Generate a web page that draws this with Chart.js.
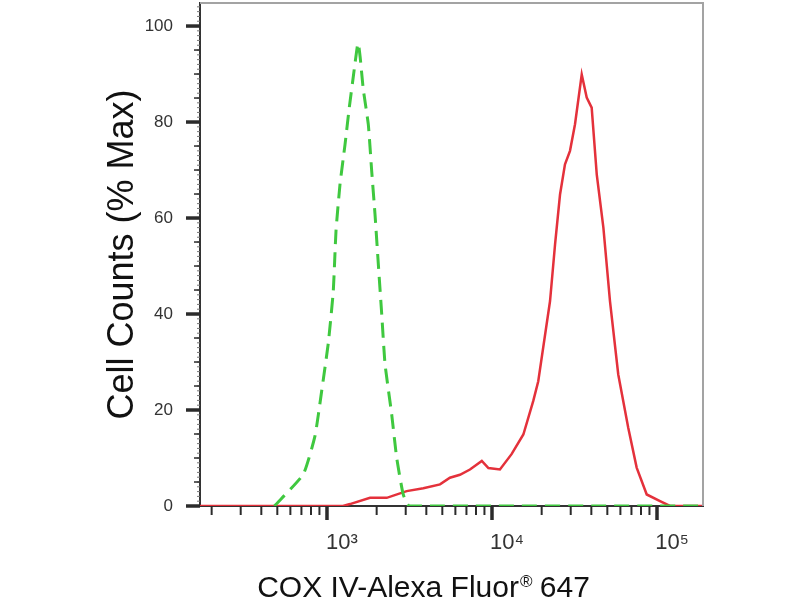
<!DOCTYPE html>
<html>
<head>
<meta charset="utf-8">
<script src="https://cdn.jsdelivr.net/npm/chart.js@4"></script>
<style>
html, body { margin: 0; padding: 0; background: #fff; }
.chart-box { width: 800px; height: 600px; }
</style>
</head>
<body>
<div class="chart-box"><canvas id="histChart"></canvas></div>
<script>
// fluorescence (x) and % max counts (y)
var isotypeX = [480, 718, 846, 929, 1019, 1092, 1134, 1199, 1286, 1365, 1458, 1527, 1550, 1590, 1660, 1780, 1866, 1954, 2048, 2147, 2249, 2467, 2643, 2898, 3160, 190000]
var isotypeY = [0, 6.6, 14.6, 24, 34, 44.8, 57.3, 67, 75.3, 83, 90.6, 95.8, 96.4, 93.4, 86.8, 79.5, 69.8, 60.8, 50.3, 39.9, 29.5, 19.1, 10.1, 2.4, 0, 0]

var coxX = [170, 1250, 1378, 1823, 2302, 3040, 3836, 4842, 5559, 6394, 7353, 8675, 9511, 11170, 13140, 15490, 17790, 19070, 22480, 24110, 25840, 27690, 29700, 31830, 34980, 37500, 40190, 43130, 47320, 51880, 58240, 66940, 75290, 86650, 104300, 119900, 190000]
var coxY = [0, 0, 0.4, 1.7, 1.7, 3.1, 3.7, 4.5, 5.9, 6.5, 7.6, 9.4, 7.9, 7.6, 10.8, 14.9, 21.9, 26, 42.7, 54.5, 64.9, 71.2, 74, 79.5, 89.9, 85.1, 83, 69.1, 58, 42.7, 27.4, 16.3, 8, 2.4, 1, 0, 0]

// tick values and labels
var xMajorTicks = [1000, 10000, 100000]
var xTickLabels = ['10\u00b3', '10\u2074', '10\u2075']
var xMinorTicks = [200, 300, 400, 500, 600, 700, 800, 900, 2000, 3000, 4000, 5000, 6000, 7000, 8000, 9000, 20000, 30000, 40000, 50000, 60000, 70000, 80000, 90000]
var yMajorTicks = [0, 20, 40, 60, 80, 100]
var yMinorTicks = [5, 10, 15, 25, 30, 35, 45, 50, 55, 65, 70, 75, 85, 90, 95]

var xTitle = 'COX IV-Alexa Fluor'
var xTitleMark = '\u00ae'
var xTitleTail = ' 647'
var yTitle = 'Cell Counts (% Max)'

function toPoints(xs, ys) {
    var pts = []
    for (var i = 0; i < xs.length; i++) {
        pts.push({x: xs[i], y: ys[i]})
    }
    return pts
}

var yAllTicks = []
for (var v = 0; v <= 104; v++) yAllTicks.push(v)

var frameAndTicks = {
    id: 'frameAndTicks',
    afterDraw: function (chart) {
        var ctx = chart.ctx
        var a = chart.chartArea
        var xs = chart.scales.x
        var ys = chart.scales.y
        ctx.save()
        // light frame on top and right
        ctx.strokeStyle = '#a3a3a3'
        ctx.lineWidth = 2
        ctx.beginPath()
        ctx.moveTo(a.left, a.top)
        ctx.lineTo(a.right, a.top)
        ctx.lineTo(a.right, a.bottom)
        ctx.stroke()

        ctx.strokeStyle = '#2b2b2b'
        xMinorTicks.forEach(function (t) {
            var px = xs.getPixelForValue(t)
            ctx.lineWidth = 2
            ctx.beginPath()
            ctx.moveTo(px, a.bottom)
            ctx.lineTo(px, a.bottom + 9)
            ctx.stroke()
        })
        xMajorTicks.forEach(function (t) {
            var px = xs.getPixelForValue(t)
            ctx.lineWidth = 3.5
            ctx.beginPath()
            ctx.moveTo(px, a.bottom)
            ctx.lineTo(px, a.bottom + 14)
            ctx.stroke()
        })
        yAllTicks.forEach(function (t) {
            var py = ys.getPixelForValue(t)
            ctx.lineWidth = 1
            ctx.strokeStyle = '#777'
            ctx.beginPath()
            ctx.moveTo(a.left, py)
            ctx.lineTo(a.left - 3, py)
            ctx.stroke()
        })
        ctx.strokeStyle = '#2b2b2b'
        yMinorTicks.forEach(function (t) {
            var py = ys.getPixelForValue(t)
            ctx.lineWidth = 1.5
            ctx.beginPath()
            ctx.moveTo(a.left, py)
            ctx.lineTo(a.left - 6, py)
            ctx.stroke()
        })
        yMajorTicks.forEach(function (t) {
            var py = ys.getPixelForValue(t)
            ctx.lineWidth = 3.5
            ctx.beginPath()
            ctx.moveTo(a.left, py)
            ctx.lineTo(a.left - 14, py)
            ctx.stroke()
        })

        // x axis title with raised registered mark
        var big = '30px "Liberation Sans", Arial, sans-serif'
        var small = '17px "Liberation Sans", Arial, sans-serif'
        ctx.font = big
        var w1 = ctx.measureText(xTitle).width
        var w3 = ctx.measureText(xTitleTail).width
        ctx.font = small
        var w2 = ctx.measureText(xTitleMark).width
        var cx = (a.left + a.right) / 2 - 28
        var x0 = cx - (w1 + w2 + w3) / 2
        var base = 597
        ctx.fillStyle = '#111'
        ctx.textBaseline = 'alphabetic'
        ctx.textAlign = 'left'
        ctx.font = big
        ctx.fillText(xTitle, x0, base)
        ctx.font = small
        ctx.fillText(xTitleMark, x0 + w1 + 1, base - 10)
        ctx.font = big
        ctx.fillText(xTitleTail, x0 + w1 + w2, base)
        ctx.restore()
    }
}

var ctx = document.getElementById('histChart').getContext('2d')
var chart = new Chart(ctx, {
    type: 'line',
    data: {
        datasets: [{
            label: 'Isotype',
            data: toPoints(isotypeX, isotypeY),
            borderColor: '#3fc83f',
            borderWidth: 3,
            borderDash: [15, 8],
            pointRadius: 0,
            tension: 0.15,
            fill: false
        }, {
            label: 'COX IV',
            data: toPoints(coxX, coxY),
            borderColor: '#e4313b',
            borderWidth: 2.5,
            pointRadius: 0,
            tension: 0,
            fill: false
        }]
    },
    options: {
        responsive: true,
        maintainAspectRatio: false,
        animation: false,
        layout: {
            padding: {left: 0, right: 97, top: 3, bottom: 0}
        },
        plugins: {
            legend: {display: false},
            tooltip: {enabled: false}
        },
        scales: {
            x: {
                type: 'logarithmic',
                position: 'bottom',
                min: 170,
                max: 190000,
                grid: {display: true, drawOnChartArea: false, drawTicks: false},
                border: {display: true, color: '#333', width: 2},
                afterBuildTicks: function (scale) {
                    scale.ticks = xMajorTicks.map(function (v) { return {value: v, major: true} })
                },
                afterFit: function (scale) {
                    scale.height = 94
                    scale.paddingLeft = 0
                    scale.paddingRight = 0
                },
                ticks: {
                    autoSkip: false,
                    maxRotation: 0,
                    labelOffset: 15,
                    padding: 24,
                    color: '#333',
                    font: {family: '"Liberation Sans Narrow", "Liberation Sans", Arial, sans-serif', size: 22},
                    callback: function (value) {
                        var i = xMajorTicks.indexOf(value)
                        return i >= 0 ? xTickLabels[i] : ''
                    }
                }
            },
            y: {
                type: 'linear',
                min: 0,
                max: 104.8,
                grid: {display: true, drawOnChartArea: false, drawTicks: false},
                border: {display: true, color: '#333', width: 2},
                afterBuildTicks: function (scale) {
                    scale.ticks = yMajorTicks.map(function (v) { return {value: v} })
                },
                afterFit: function (scale) {
                    scale.width = 200
                    scale.paddingTop = 0
                    scale.paddingBottom = 0
                },
                ticks: {
                    autoSkip: false,
                    padding: 27,
                    color: '#333',
                    font: {family: '"Liberation Sans", Arial, sans-serif', size: 17}
                },
                title: {
                    display: true,
                    text: yTitle,
                    color: '#111',
                    font: {family: '"Liberation Sans", Arial, sans-serif', size: 36},
                    padding: {top: 101, bottom: 0}
                }
            }
        }
    },
    plugins: [frameAndTicks]
})
</script>
</body>
</html>
